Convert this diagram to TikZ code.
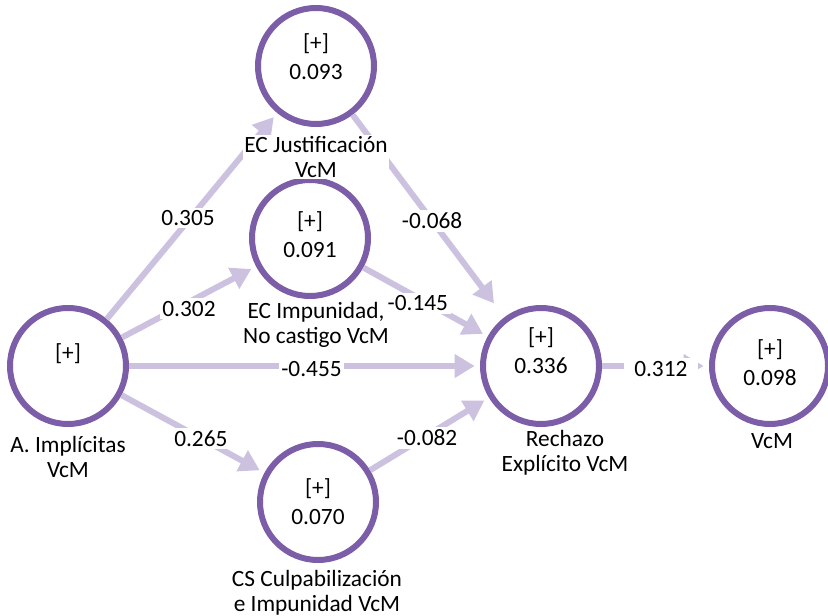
\documentclass[tikz,border=0pt]{standalone}
\usepackage{fontspec}
\setmainfont{Carlito}
\usetikzlibrary{arrows.meta}
\definecolor{cpurple}{RGB}{123,94,167}
\definecolor{clav}{RGB}{204,194,224}
\begin{document}
\begin{tikzpicture}[x=0.75pt,y=-0.75pt,
  lv/.style={circle,draw=cpurple,line width=4.5pt,fill=white,minimum size=87pt,inner sep=0pt},
  intxt/.style={font=\fontsize{17.5}{21.75}\selectfont,align=center,inner sep=0pt},
  outtxt/.style={font=\fontsize{17.5}{18.5}\selectfont,align=center,fill=white,inner sep=1pt},
  path/.style={draw=clav,line width=4.5pt,-{Triangle[length=15pt,width=17pt]},shorten >=4pt},
  coef/.style={font=\fontsize{17.5}{20}\selectfont,fill=white,inner sep=2pt}
]
\useasboundingbox (0,0) rectangle (828,616);
% latent variables
\node[lv] (A) at (68,366) {};
\node[lv] (J) at (316,66) {};
\node[lv] (I) at (310,238) {};
\node[lv] (R) at (541,366) {};
\node[lv] (V) at (770,366) {};
\node[lv] (C) at (318,502) {};
% inner texts
\node[intxt] (At) at (68,354) {[+]};
\node[intxt] (Jt) at (316,57) {[+]\\0.093};
\node[intxt] (It) at (310,235) {[+]\\0.091};
\node[intxt] (Rt) at (541,351) {[+]\\0.336};
\node[intxt] (Vt) at (770,363) {[+]\\0.098};
\node[intxt] (Ct) at (318,502) {[+]\\0.070};
% paths
\draw[path] (A) to node[coef,pos=0.477,yshift=2pt] (c1) {0.305} (J);
\draw[path] (A) to node[coef,pos=0.48,xshift=2pt,yshift=-4pt] (c2) {0.302} (I);
\draw[path] (A) to node[coef,pos=0.52,yshift=-2pt] (c3) {-0.455} (R);
\draw[path] (A) to node[coef,pos=0.555] (c4) {0.265} (C);
\draw[path,shorten >=13pt] (J) to node[coef,pos=0.524] (c5) {-0.068} (R);
\draw[path] (C) to node[coef,pos=0.48,yshift=-2pt] (c7) {-0.082} (R);
% outer labels
\node[outtxt] (Al) at (68,457) {A. Implícitas\\VcM};
\node[outtxt] (Jl) at (316,157) {EC Justificación\\VcM};
\node[outtxt] (Il) at (316,325) {EC Impunidad,\\No castigo VcM};
\node[outtxt] (Rl) at (565,453) {Rechazo\\Explícito VcM};
\node[outtxt] (Vl) at (772,441) {VcM};
\node[outtxt] (Cl) at (317,593) {CS Culpabilización\\e Impunidad VcM};
% paths drawn over labels
\draw[path] (I) to node[coef,pos=0.46,xshift=-2pt,yshift=-3pt] (c6) {-0.145} (R);
\draw[path] (R) to node[coef,pos=0.55,yshift=-2pt,inner xsep=8pt] (c8) {0.312} (V);
\end{tikzpicture}
\end{document}
